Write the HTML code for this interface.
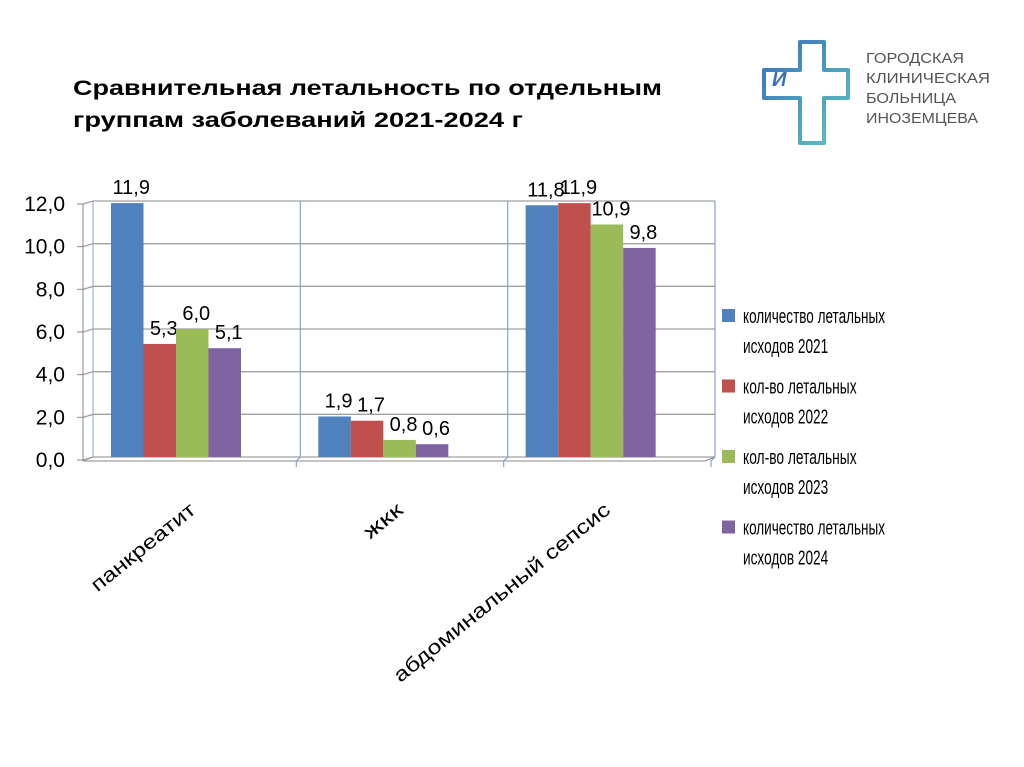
<!DOCTYPE html>
<html><head><meta charset="utf-8"><style>
html,body{margin:0;padding:0;background:#fff;}
svg{display:block;font-family:"Liberation Sans",sans-serif;}
</style></head><body>
<svg id="chart" width="1024" height="767" viewBox="0 0 1024 767" xmlns="http://www.w3.org/2000/svg">
<defs>
<linearGradient id="lg" x1="0" y1="0" x2="1" y2="1"><stop offset="0" stop-color="#3a6fc0"/><stop offset="1" stop-color="#5cc6c0"/></linearGradient>
</defs>
<g font-weight="bold" font-size="21.5" fill="#000">
<text x="73" y="95" textLength="589" lengthAdjust="spacingAndGlyphs">Сравнительная летальность по отдельным</text>
<text x="73" y="127" textLength="450" lengthAdjust="spacingAndGlyphs">группам заболеваний  2021-2024 г</text>
</g>
<g>
<path d="M800 42 L824 42 L824 70 L848 70 L848 98 L824 98 L824 143 L800 143 L800 98 L764 98 L764 70 L800 70 Z" fill="none" stroke="url(#lg)" stroke-width="4" stroke-linejoin="round"/>
<text x="772" y="86" font-size="20" font-weight="bold" font-style="italic" fill="#3a6fc0">И</text>
<g font-size="15" fill="#555">
<text x="866" y="63" textLength="98" lengthAdjust="spacingAndGlyphs">ГОРОДСКАЯ</text>
<text x="866" y="83" textLength="124" lengthAdjust="spacingAndGlyphs">КЛИНИЧЕСКАЯ</text>
<text x="866" y="103" textLength="90" lengthAdjust="spacingAndGlyphs">БОЛЬНИЦА</text>
<text x="866" y="123" textLength="112" lengthAdjust="spacingAndGlyphs">ИНОЗЕМЦЕВА</text>
</g>
</g>
<g id="plot"></g>
<g id="legend"></g>
</svg>
<script>
const categories = ["панкреатит","жкк","абдоминальный сепсис"];
const series2021 = [11.9, 1.9, 11.8];
const series2022 = [5.3, 1.7, 11.9];
const series2023 = [6.0, 0.8, 10.9];
const series2024 = [5.1, 0.6, 9.8];
const yTicks = [0,2,4,6,8,10,12];
const yTickLabels = ["0,0","2,0","4,0","6,0","8,0","10,0","12,0"];
const seriesNames = ["количество летальных|исходов 2021","кол-во летальных|исходов 2022","кол-во летальных|исходов 2023","количество летальных|исходов 2024"];
const colors = ["#4f81bd","#c0504d","#9bbb59","#8064a2"];
const allSeries = [series2021, series2022, series2023, series2024];

const NS = "http://www.w3.org/2000/svg";
const plot = document.getElementById('plot');
const legend = document.getElementById('legend');
const x0 = 93, x1 = 715, yBase = 457, yTop = 201, vMax = 12;
const catW = (x1 - x0) / categories.length;
function yScale(v){ return yBase - (v / vMax) * (yBase - yTop); }
function xCat(i){ return x0 + i * catW; }
function mk(tag, attrs, parent){ const e = document.createElementNS(NS, tag); for (const k in attrs) e.setAttribute(k, attrs[k]); parent.appendChild(e); return e; }

let w = mk('path', {d:`M${x0} ${yTop} L${x0} ${yBase} L${x0-10} ${yBase+4}`, fill:'none', stroke:'#8aa2c8', 'stroke-width':1}, plot);


yTicks.forEach((t, i) => {
  const y = yScale(t);
  const g = mk('path', {d:`M${x0-10} ${y+3} L${x0} ${y} L${x1} ${y}`, fill:'none', stroke:'#a0a0a0', 'stroke-width':1.3}, plot);
  
  
  const tk = mk('line', {x1:x0-16, x2:x0-10, y1:y+3, y2:y+3, stroke:'#888'}, plot);
  
  
  const tl = mk('text', {x:x0-28, y:y+10, 'text-anchor':'end', 'font-size':21, fill:'#000'}, plot);
  tl.textContent = yTickLabels[i];
  
  
});
const ax = mk('line', {x1:x0-10, x2:x0-10, y1:yTop+3, y2:yBase+4, stroke:'#888'}, plot);


const bx = mk('path', {d:`M${x0-10} ${yBase+4} L${x1-10} ${yBase+4} L${x1} ${yBase}`, fill:'none', stroke:'#888'}, plot);


for (let i = 1; i <= categories.length; i++) {
  const x = xCat(i);
  const d = mk('path', {d:`M${x} ${yTop} L${x} ${yBase} L${x-4} ${yBase+4} L${x-4} ${yBase+10}`, fill:'none', stroke:'#8aa2c8', 'stroke-width':1.2}, plot);
  
  
}
const barW = 32.5;
const catLabelLen = [128, 44, 272];
categories.forEach((c, ci) => {
  allSeries.forEach((s, si) => {
    const bx0 = xCat(ci) + 18 + si * barW;
    const y = yScale(s[ci]);
    const r = mk('rect', {x:bx0, y:y, width:barW, height:yBase - y, fill:colors[si]}, plot);
    
    
    const t = mk('text', {x:bx0 + barW/2 + 4, y:y - 9, 'text-anchor':'middle', 'font-size':20, fill:'#000'}, plot);
    t.textContent = s[ci].toFixed(1).replace('.', ',');
    
    
  });
  const lx = xCat(ci) + 104, ly = 512;
  const cl = mk('text', {x:lx, y:ly, 'text-anchor':'end', 'font-size':20, fill:'#000', textLength:catLabelLen[ci], lengthAdjust:'spacingAndGlyphs', transform:`rotate(-39 ${lx} ${ly})`}, plot);
  cl.textContent = c;
  
  
});
seriesNames.forEach((n, i) => {
  const y = 323 + i * 70.5;
  const sq = mk('rect', {x:722, y:y-14, width:13, height:13, fill:colors[i]}, legend);
  
  
  const parts = n.split('|');
  parts.forEach((p, j) => {
    const len = p.length * 7.1;
    const t = mk('text', {x:743, y:y + j*30, 'font-size':20, fill:'#000', textLength:len, lengthAdjust:'spacingAndGlyphs'}, legend);
    t.textContent = p;
    
    
  });
});
</script>
</body></html>
